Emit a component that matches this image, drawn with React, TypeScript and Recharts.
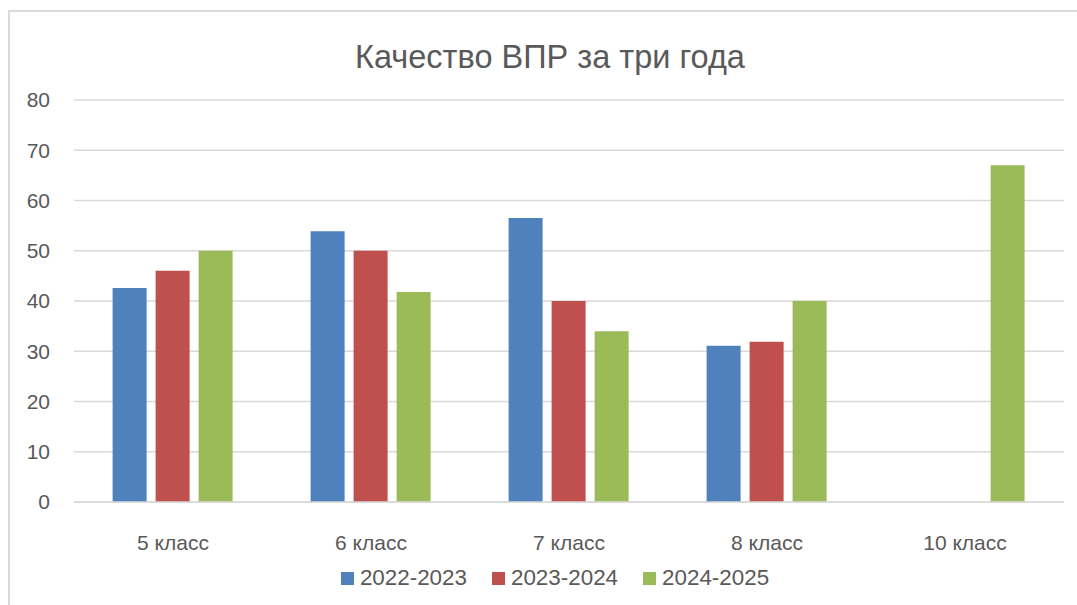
import React from "react";
import { BarChart, Bar, XAxis, YAxis, CartesianGrid, Legend } from "recharts";

const categories = ["5 класс", "6 класс", "7 класс", "8 класс", "10 класс"];
const s2022 = [42.6, 53.9, 56.5, 31.1, null];
const s2023 = [46, 50, 40, 31.9, null];
const s2024 = [50, 41.8, 34, 40, 67];
const seriesNames = ["2022-2023", "2023-2024", "2024-2025"];
const seriesColors = ["#4F81BD", "#C0504D", "#9BBB59"];
const yTicks = [0, 10, 20, 30, 40, 50, 60, 70, 80];
const title = "Качество ВПР за три года";

const data = categories.map((c, i) => ({
  name: c,
  a: s2022[i],
  b: s2023[i],
  c: s2024[i],
}));
const keys = ["a", "b", "c"];

const FONT = "'Liberation Sans', Arial, sans-serif";

const LegendContent = () => (
  <div
    style={{
      display: "flex",
      justifyContent: "center",
      fontFamily: FONT,
      fontSize: 22.4,
      color: "#595959",
      paddingLeft: 46,
    }}
  >
    {seriesNames.map((n, i) => (
      <div key={n} style={{ display: "flex", alignItems: "center", marginRight: i < 2 ? 25 : 0 }}>
        <span
          style={{
            display: "inline-block",
            width: 13,
            height: 13,
            background: seriesColors[i],
            marginRight: 6,
          }}
        />
        <span>{n}</span>
      </div>
    ))}
  </div>
);

export default function App() {
  return (
    <div style={{ position: "absolute", left: 0, top: 0, width: 1077, height: 605, background: "#fff", overflow: "hidden" }}>
      <div
        style={{
          position: "absolute",
          left: 8,
          top: 10,
          width: 1100,
          height: 700,
          borderLeft: "2px solid #d9d9d9",
          borderTop: "2px solid #d9d9d9",
        }}
      />
      <BarChart
        width={1077}
        height={605}
        data={data}
        margin={{ top: 100, right: 13, left: 0, bottom: 0 }}
        barCategoryGap="19.5%"
        barGap={9}
      >
        <text
          x={550}
          y={57}
          textAnchor="middle"
          dominantBaseline="central"
          fontFamily={FONT}
          fontSize={32.5}
          fill="#595959"
        >
          {title}
        </text>
        <CartesianGrid vertical={false} stroke="#d9d9d9" strokeWidth={1.5} />
        <XAxis
          dataKey="name"
          tickLine={false}
          axisLine={{ stroke: "#d9d9d9", strokeWidth: 1.5 }}
          tickSize={0}
          tickMargin={33}
          height={63}
          tick={{ fontFamily: FONT, fontSize: 21, fill: "#595959" }}
          interval={0}
        />
        <YAxis
          domain={[0, 80]}
          ticks={yTicks}
          tickLine={false}
          axisLine={false}
          tickSize={0}
          tickMargin={24}
          width={74}
          tick={{ fontFamily: FONT, fontSize: 21, fill: "#595959" }}
        />
        <Legend verticalAlign="bottom" height={40} content={<LegendContent />} />
        {keys.map((k, i) => (
          <Bar key={k} dataKey={k} name={seriesNames[i]} fill={seriesColors[i]} isAnimationActive={false} />
        ))}
      </BarChart>
    </div>
  );
}
